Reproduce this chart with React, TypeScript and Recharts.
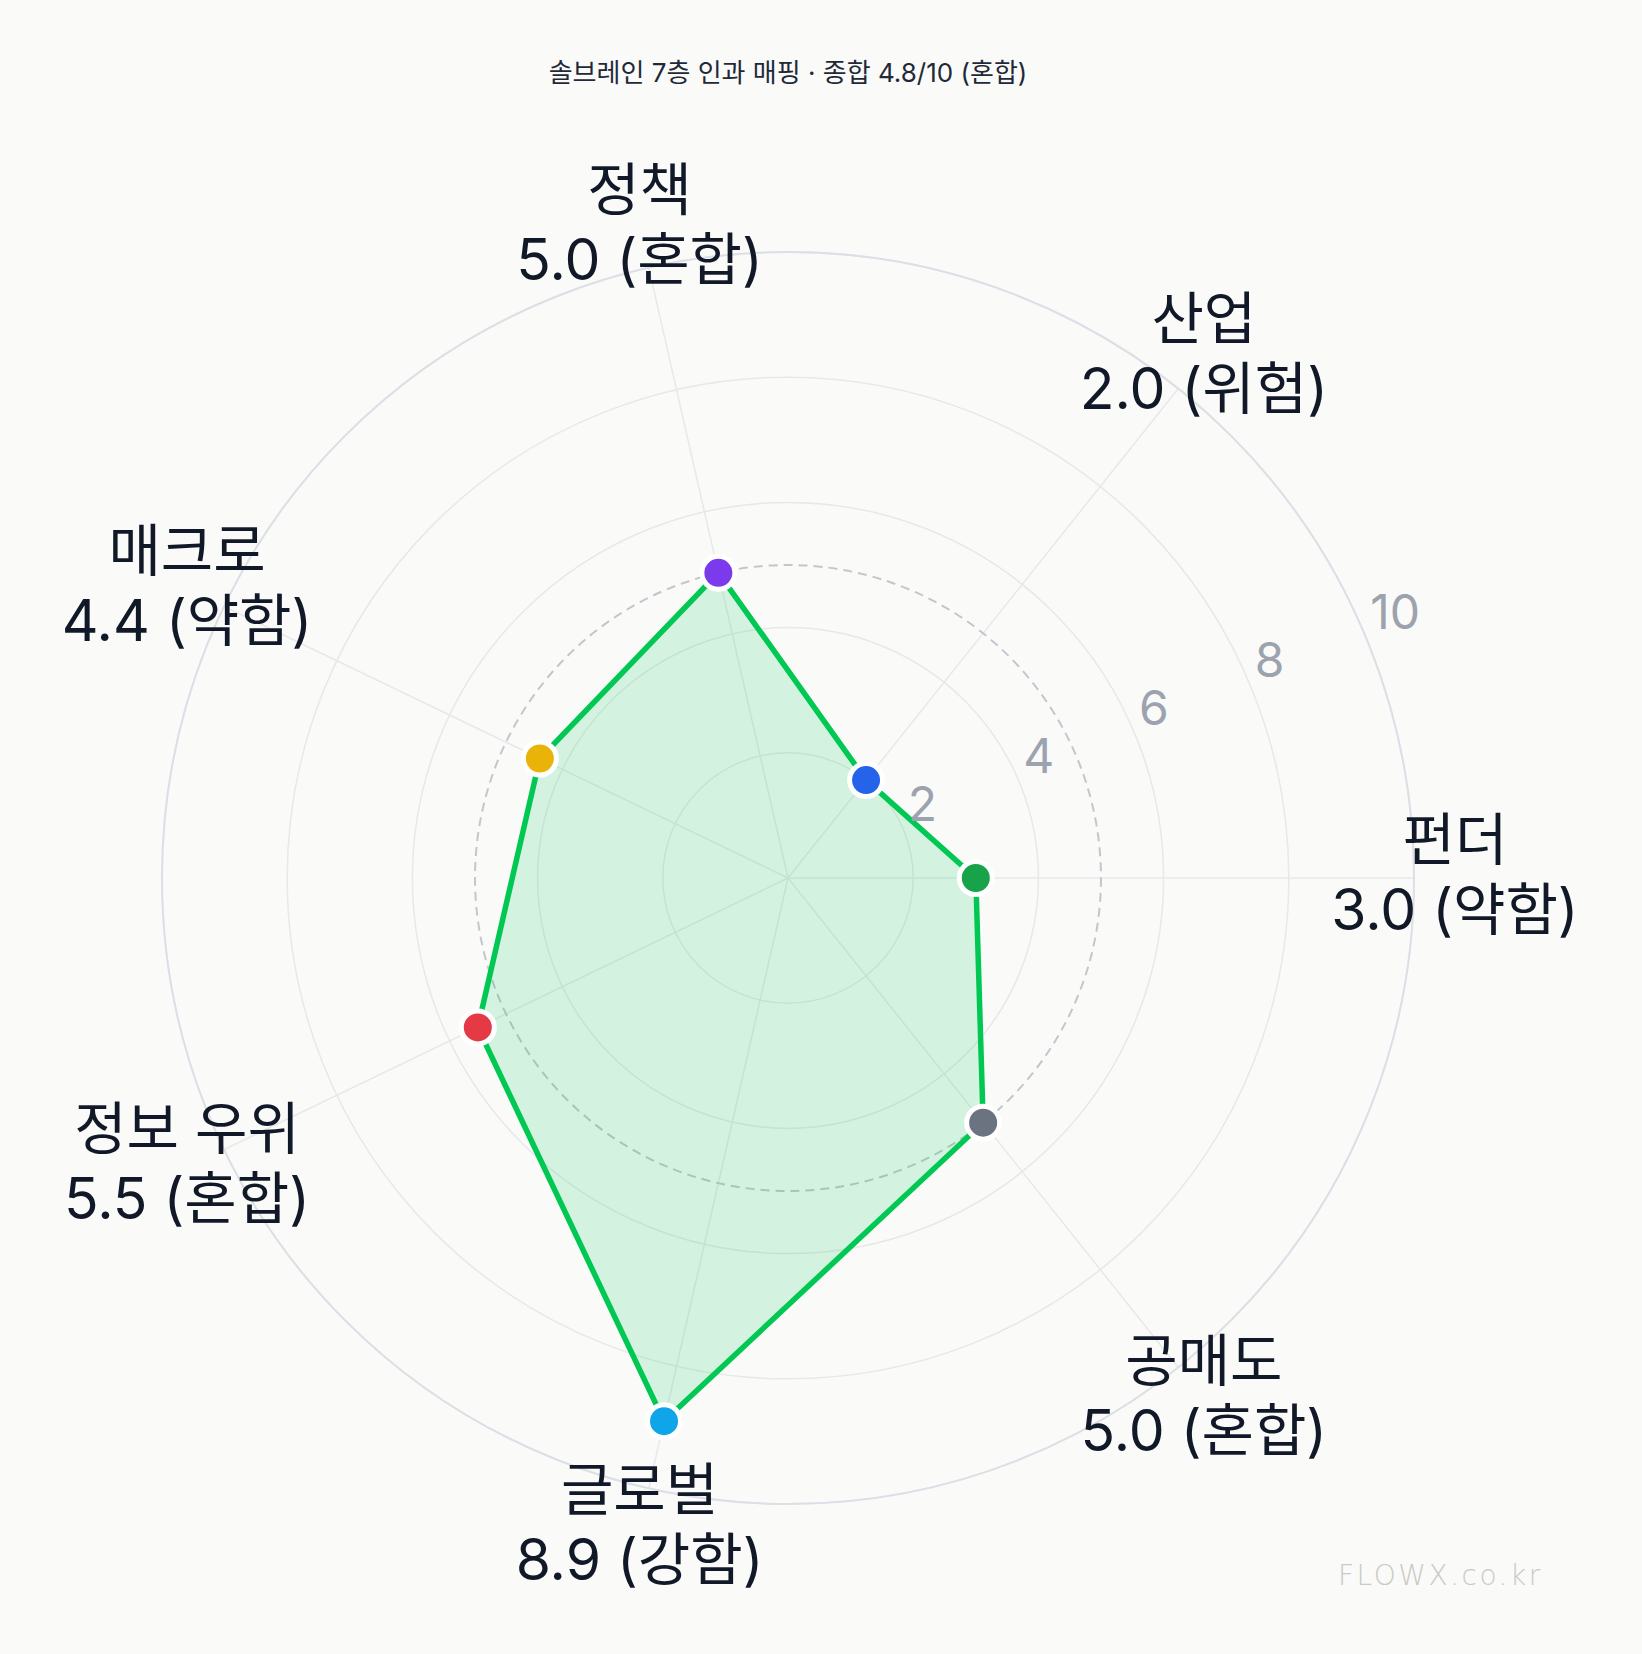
import { PolarAngleAxis, PolarGrid, PolarRadiusAxis, Radar, RadarChart } from 'recharts'

// listed counterclockwise from the right (3 o'clock)
const CATEGORIES = ['펀더', '산업', '정책', '매크로', '정보 우위', '글로벌', '공매도']
const SCORES = [3.0, 2.0, 5.0, 4.4, 5.5, 8.9, 5.0]
const STATUS = ['약함', '위험', '혼합', '약함', '혼합', '강함', '혼합']
const DOT_COLORS = ['#16a34a', '#2563eb', '#7c3aed', '#eab308', '#e63946', '#0ea5e9', '#6b7280']
const RADIUS_TICKS = [0, 2, 4, 6, 8, 10]
const REFERENCE_SCORE = 5
const TITLE = '솔브레인 7층 인과 매핑 · 종합 4.8/10 (혼합)'

const W = 1642
const H = 1654
const CX = 788
const CY = 878
const OUTER_R = 626
const LABEL_R = 667
const MAX_SCORE = 10

const FONT = "Inter, 'Noto Sans CJK KR', sans-serif"

const rows = CATEGORIES.map((name, i) => ({
  name,
  score: SCORES[i],
  status: STATUS[i],
  color: DOT_COLORS[i],
}))
// recharts walks the circle clockwise, so feed it first item then the rest reversed
const data = [rows[0], ...rows.slice(1).reverse()]

function AngleTick(props: any) {
  const { payload, x: tx, y: ty } = props
  const dx = tx - CX
  const dy = ty - CY
  const len = Math.hypot(dx, dy) || 1
  const x = CX + (dx / len) * LABEL_R
  const y = CY + (dy / len) * LABEL_R
  const row = rows.find((d) => d.name === payload.value)
  if (!row) return null
  return (
    <text x={x} y={y} textAnchor="middle" fill="#111827" fontSize={57} fontFamily={FONT}>
      <tspan x={x} y={y - 18}>{row.name}</tspan>
      <tspan x={x} y={y + 52}>{`${row.score.toFixed(1)} (${row.status})`}</tspan>
    </text>
  )
}

function RadiusTick(props: any) {
  const { x, y, payload } = props
  if (payload.value === 0) return null
  return (
    <text x={x + 4} y={y - 9} textAnchor="start" fill="#9ca3af" fontSize={48} fontFamily={FONT}>
      {payload.value}
    </text>
  )
}

function ScoreDot(props: any) {
  const { cx, cy, payload } = props
  return <circle cx={cx} cy={cy} r={16.5} fill={payload?.color ?? '#999'} stroke="#ffffff" strokeWidth={5} />
}

export default function App() {
  return (
    <div style={{ position: 'relative', width: W, height: H, background: '#fafaf9', fontFamily: FONT }}>
      <style>{'body{margin:0}'}</style>
      <div
        style={{
          position: 'absolute',
          top: 52,
          left: 0,
          width: CX * 2,
          textAlign: 'center',
          fontSize: 26,
          color: '#1f2937',
        }}
      >
        {TITLE}
      </div>
      <RadarChart
        width={W}
        height={H}
        data={data}
        cx={CX}
        cy={CY}
        outerRadius={OUTER_R}
        startAngle={0}
        endAngle={-360}
        style={{ position: 'absolute', top: 0, left: 0 }}
      >
        <PolarGrid gridType="circle" stroke="#e8e8ea" strokeWidth={1.5} />
        <PolarRadiusAxis
          angle={22.5}
          domain={[0, MAX_SCORE]}
          ticks={RADIUS_TICKS as any}
          tickCount={6}
          axisLine={false}
          tick={<RadiusTick />}
        />
        <PolarAngleAxis dataKey="name" tickLine={false} axisLine={false} tick={<AngleTick />} />
        <PolarGrid
          gridType="circle"
          radialLines={false}
          polarRadius={[OUTER_R * (REFERENCE_SCORE / MAX_SCORE)]}
          stroke="#c3c6cd"
          strokeWidth={2}
          strokeDasharray="9 6"
        />
        <PolarGrid gridType="circle" radialLines={false} polarRadius={[OUTER_R]} stroke="#dcdfe6" strokeWidth={2} />
        <Radar
          dataKey="score"
          stroke="#00c853"
          strokeWidth={5.5}
          fill="#00c853"
          fillOpacity={0.15}
          dot={<ScoreDot />}
          isAnimationActive={false}
        />
      </RadarChart>
      <div
        style={{
          position: 'absolute',
          left: 1338,
          top: 1559,
          fontSize: 28,
          letterSpacing: 2.5,
          color: '#cacac5',
          fontFamily: "'DejaVu Sans', sans-serif",
          fontWeight: 300,
        }}
      >
        FLOWX.co.kr
      </div>
    </div>
  )
}
